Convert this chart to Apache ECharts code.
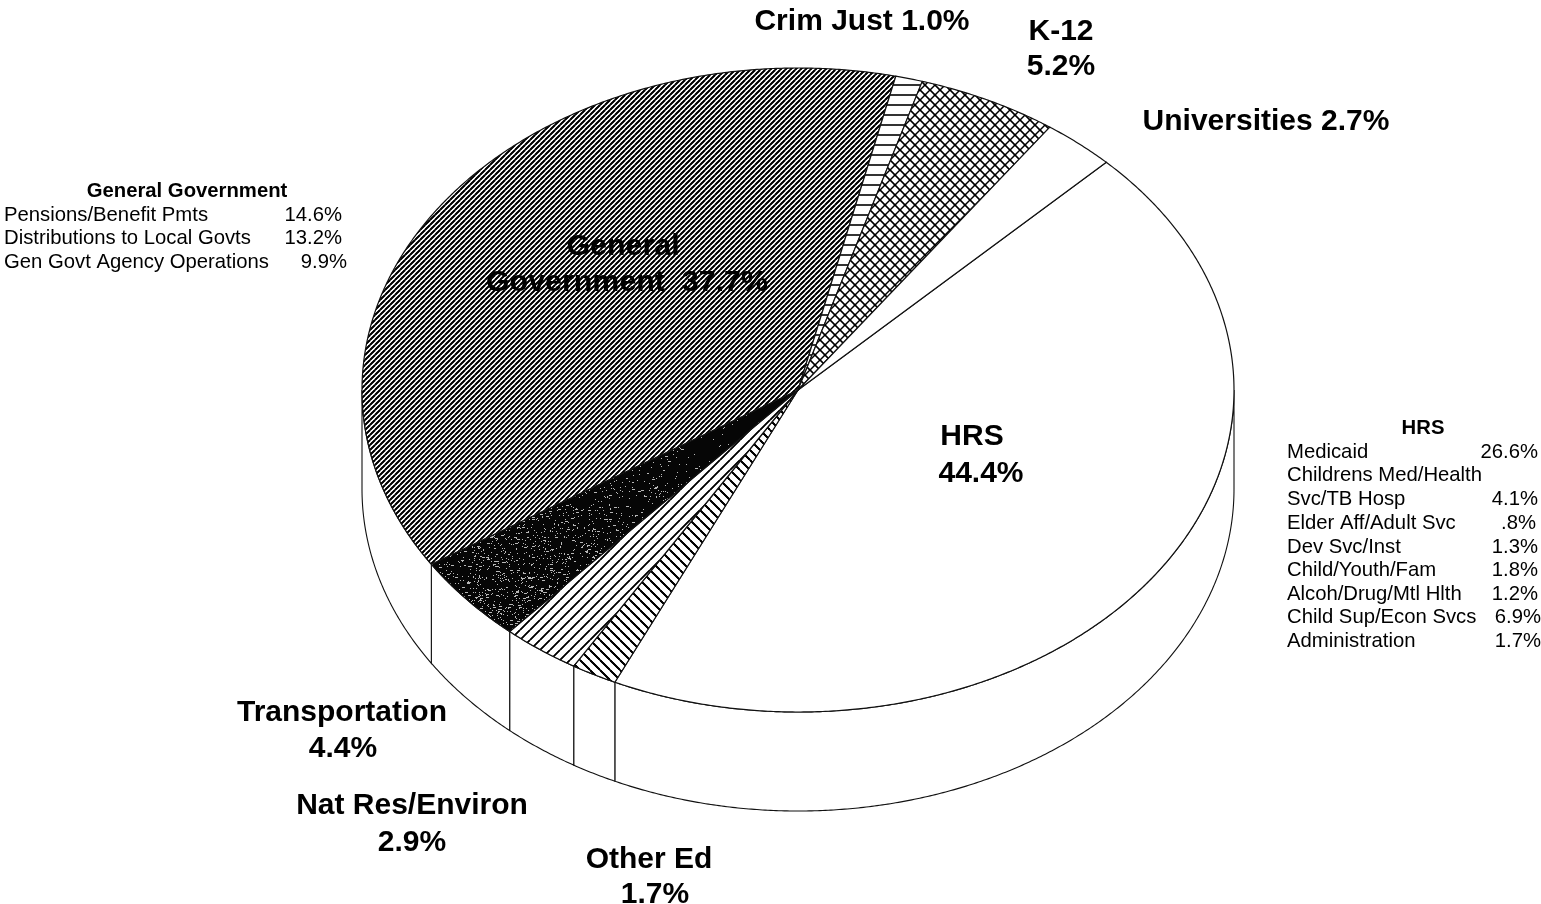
<!DOCTYPE html>
<html>
<head>
<meta charset="utf-8">
<style>html,body{margin:0;padding:0;background:#fff}#c{width:1541px;height:904px}</style>
<script src="https://cdn.jsdelivr.net/npm/echarts@6/dist/echarts.min.js"></script>
</head>
<body>
<div id="c"></div>
<script>
// ---------- data ----------
var sliceNames = ['HRS','Other Ed','Nat Res/Environ','Transportation','General Government','Crim Just','K-12','Universities'];
var sliceValues = [44.4,1.7,2.9,4.4,37.7,1.0,5.2,2.7];
var sliceLabels = [['HRS','44.4%'],['Other Ed','1.7%'],['Nat Res/Environ','2.9%'],['Transportation','4.4%'],
  ['General','Government  37.7%'],['Crim Just 1.0%'],['K-12','5.2%'],['Universities 2.7%']];
var generalTitle = 'General Government';
var generalRows = ['Pensions/Benefit Pmts','Distributions to Local Govts','Gen Govt Agency Operations'];
var generalPcts = ['14.6%','13.2%','9.9%'];
var hrsTitle = 'HRS';
var hrsRows = ['Medicaid','Childrens Med/Health','Svc/TB Hosp','Elder Aff/Adult Svc','Dev Svc/Inst','Child/Youth/Fam','Alcoh/Drug/Mtl Hlth','Child Sup/Econ Svcs','Administration'];
var hrsPcts = ['26.6%','','4.1%','.8%','1.3%','1.8%','1.2%','6.9%','1.7%'];

// ---------- layout / style ----------
var CX = 798, CY = 390, RX = 436, RY = 322, DEPTH = 99, START_ANGLE = 45;
var FONT = '"Liberation Sans",Arial,sans-serif', INK = '#111', SMALL = 20.3;
var labelPos = [[[972,437],[981,474]],[[649,860],[655,895]],[[412,806],[412,843]],[[342,713],[343,749]],
  [[623,247],[627,283]],[[862,22]],[[1061,32],[1061,67]],[[1266,122]]];
var generalY = [215,238,262], generalPctRight = [342,342,347];
var hrsY = [452,475,499,523,547,570,594,617,641], hrsPctRight = [1538,1538,1538,1536,1538,1538,1538,1541,1541];

function tile(w, h, draw){
  var c = document.createElement('canvas'); c.width = w; c.height = h;
  var g = c.getContext('2d'); g.fillStyle = '#fff'; g.fillRect(0,0,w,h);
  g.strokeStyle = '#000'; draw(g,w,h); return {image:c, repeat:'repeat'};
}
function seg(g,lw,list){ g.lineWidth = lw; list.forEach(function(s){ g.beginPath(); g.moveTo(s[0],s[1]); g.lineTo(s[2],s[3]); g.stroke(); }); }
function slash(s){ return [[-s,s,s,-s],[0,s,s,0],[s,s+s,s+s,s],[-s,s+s,s+s,-s],[0,s+s,s+s,0]]; }
function back(s){ return [[0,0,s,s],[-s,0,s,s+s],[0,-s,s+s,s],[-s,-s,s,s],[0,0,s+s,s+s]]; }
// Speckled near-black print texture: a fixed hash, heavier toward the outer part of the wedge.
function speckle(){
  var W = 1541, H = 904, c = document.createElement('canvas'); c.width = W; c.height = H;
  var g = c.getContext('2d'); g.fillStyle = '#060606'; g.fillRect(0,0,W,H);
  var h = 1779033703;
  function next(){ h = (h + 0x6D2B79F5) | 0; var t = Math.imul(h ^ (h >>> 15), 1 | h);
    t = (t + Math.imul(t ^ (t >>> 7), 61 | t)) ^ t; return ((t ^ (t >>> 14)) >>> 0) / 4294967296; }
  g.fillStyle = '#b8b8b8';
  for (var i = 0; i < 60000; i++){
    var x = 420 + next()*400, y = 380 + next()*260, keep = next(), len = next();
    var d = Math.hypot(x-510, y-590) / 260;
    if (keep < 0.16 * Math.max(0.05, 1-d)) g.fillRect(Math.round(x), Math.round(y), len > 0.85 ? 3 : 1, 1);
  }
  return {image:c, repeat:'no-repeat'};
}
var fills = [
  '#fff',
  tile(10,10,function(g){ seg(g,1.6,back(10)); }),
  tile(10,10,function(g){ seg(g,1.5,slash(10)); }),
  speckle(),
  tile(5,5,function(g){ seg(g,1.7,slash(5)); }),
  tile(10,10,function(g){ seg(g,1.6,[[0,5,10,5]]); }),
  tile(10,10,function(g){ seg(g,1.2,slash(10).concat(back(10))); }),
  '#fff'
];

var total = sliceValues.reduce(function(a,b){return a+b;},0);
var starts = []; sliceValues.reduce(function(a,v,i){ starts[i]=a; return a+v; },0);

var chart = echarts.init(document.getElementById('c'), null, {renderer:'canvas'});

function textEl(t,x,y,size,weight,align){
  return {type:'text', style:{text:t,x:x,y:y,fill:'#000',font:weight+' '+size+'px '+FONT,textAlign:align,textVerticalAlign:'middle'}};
}

function renderSlice(params, api){
  var i = params.dataIndex, st = api.value(1), val = api.value(2);
  var top = [], n = Math.max(6, Math.round(val*10));
  for (var k=0;k<=n;k++){
    var p = api.coord([1, st + val*k/n]);
    top.push([p[0], CY + (p[1]-CY)*RY/RX]);
  }
  var children = [];
  var front = top.filter(function(p){ return p[1] >= CY; });
  if (front.length > 1){
    var wall = front.concat(front.slice().reverse().map(function(p){ return [p[0],p[1]+DEPTH]; }));
    children.push({type:'polygon', shape:{points:wall}, style:{fill:'#fff',stroke:INK,lineWidth:1.1}});
  }
  var centre = api.coord([0, st]);
  children.push({type:'polygon', shape:{points:[[centre[0],CY]].concat(top)},
    style:{fill:fills[i],stroke:INK,lineWidth:1.2}});
  sliceLabels[i].forEach(function(line,j){
    var q = labelPos[i][j];
    children.push(textEl(line,q[0],q[1],i===4?30.4:30,'bold','center'));
  });
  return {type:'group', children:children};
}

var graphics = [textEl(generalTitle,187,191,SMALL,'bold','center')];
generalRows.forEach(function(t,i){
  graphics.push(textEl(t,4,generalY[i],SMALL,'normal','left'));
  graphics.push(textEl(generalPcts[i],generalPctRight[i],generalY[i],SMALL,'normal','right'));
});
graphics.push(textEl(hrsTitle,1423,428,SMALL,'bold','center'));
hrsRows.forEach(function(t,i){
  graphics.push(textEl(t,1287,hrsY[i],SMALL,'normal','left'));
  if (hrsPcts[i]) graphics.push(textEl(hrsPcts[i],hrsPctRight[i],hrsY[i],SMALL,'normal','right'));
});

chart.setOption({
  animation:false,
  backgroundColor:'#fff',
  polar:{center:[CX,CY], radius:RX},
  angleAxis:{type:'value',min:0,max:total,startAngle:START_ANGLE,clockwise:true,show:false},
  radiusAxis:{type:'value',min:0,max:1,show:false},
  graphic:graphics,
  series:[{
    type:'custom', coordinateSystem:'polar', renderItem:renderSlice, clip:false, silent:true,
    encode:{radius:0, angle:1},
    data:sliceNames.map(function(n,i){ return {name:n, value:[1,starts[i],sliceValues[i]]}; })
  }]
});
</script>
</body>
</html>
